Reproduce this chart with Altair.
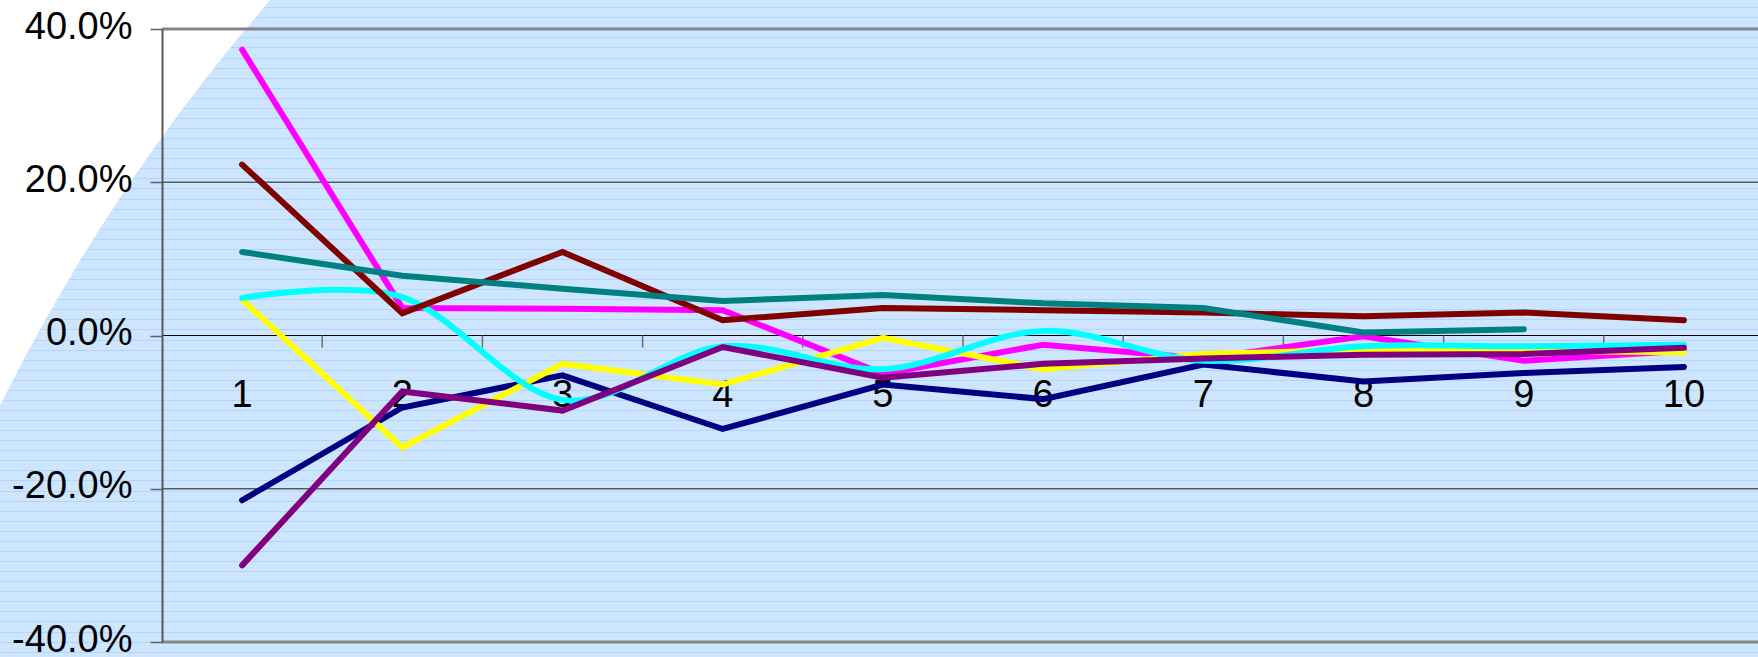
import math
import altair as alt
import pandas as pd

# ---- data -------------------------------------------------------------
categories = [1, 2, 3, 4, 5, 6, 7, 8, 9, 10]

# percentage change per period, one list per series (None = no value)
series_navy = [-21.5, -9.4, -5.2, -12.2, -6.4, -8.3, -3.8, -6.0, -4.9, -4.1]
series_magenta = [37.3, 3.6, 3.5, 3.3, -5.0, -1.2, -3.0, -0.1, -3.3, -2.0]
series_yellow = [4.7, -14.6, -3.7, -6.4, -0.3, -4.4, -2.4, -1.9, -2.0, -2.2]
series_cyan = [4.9, 5.0, -8.4, -1.4, -4.4, 0.6, -3.3, -1.4, -1.4, -1.2]
series_purple = [-30.0, -7.3, -9.8, -1.5, -5.5, -3.7, -3.0, -2.5, -2.4, -1.6]
series_darkred = [22.3, 2.9, 10.9, 2.0, 3.6, 3.3, 3.0, 2.5, 3.0, 2.0]
series_teal = [10.9, 7.8, 6.1, 4.5, 5.3, 4.2, 3.6, 0.4, 0.8, None]

y_ticks = [-40, -20, 0, 20, 40]

# drawing order: later series sit on top
series = [
    ("Series 1", series_navy, "#000080", "linear"),
    ("Series 2", series_magenta, "#FF00FF", "linear"),
    ("Series 3", series_yellow, "#FFFF00", "linear"),
    ("Series 4", series_cyan, "#00FFFF", "cardinal"),
    ("Series 5", series_purple, "#800080", "linear"),
    ("Series 6", series_darkred, "#800000", "linear"),
    ("Series 7", series_teal, "#008080", "linear"),
]

rows = []
for name, vals, _, _ in series:
    for c, v in zip(categories, vals):
        if v is not None:
            rows.append({"series": name, "cat": c, "value": v})
df = pd.DataFrame(rows)

# ---- layout -----------------------------------------------------------
W, H = 1596, 613
PAD = {"left": 162, "right": 0, "top": 29, "bottom": 15}
CANVAS_H = PAD["top"] + H + PAD["bottom"]

BG = "#CDE5FF"
STRIPE = "#B2D5FB"
FONT = "Liberation Sans"

x_scale = alt.Scale(domain=[0.5, 10.4625], nice=False, zero=False)
y_scale = alt.Scale(domain=[-40, 40], nice=False, zero=False)

y_axis = alt.Axis(
    values=y_ticks,
    labelExpr="(datum.value < 0 ? '-' : '') + format(abs(datum.value), '.1f') + '%'",
    labelFont=FONT,
    labelFontSize=38,
    labelColor="black",
    labelPadding=18,
    labelOffset=-2,
    tickSize=12,
    tickColor="#606060",
    tickWidth=1.5,
    domainColor="#595959",
    domainWidth=2,
    grid=False,
    title=None,
    zindex=1,
)


def y_enc(field):
    return alt.Y(field, type="quantitative", scale=y_scale, axis=y_axis)


# ---- background: striped fill with a white corner ---------------------
stripe_period = 10.07
stripe_start = 7.7
stops = [alt.GradientStop(offset=0, color=BG)]
k = 0
while stripe_start + k * stripe_period < CANVAS_H - 1:
    yc = stripe_start + k * stripe_period
    o1 = (yc - 0.5) / CANVAS_H
    o2 = (yc + 0.5) / CANVAS_H
    stops += [
        alt.GradientStop(offset=o1, color=BG),
        alt.GradientStop(offset=o1, color=STRIPE),
        alt.GradientStop(offset=o2, color=STRIPE),
        alt.GradientStop(offset=o2, color=BG),
    ]
    k += 1
stops.append(alt.GradientStop(offset=1, color=BG))

one = pd.DataFrame({"k": [0]})
background = alt.Chart(one).mark_rect(
    color=alt.LinearGradient(gradient="linear", stops=stops, x1=0, x2=0, y1=0, y2=1)
).encode(
    x=alt.value(-PAD["left"]),
    x2=alt.value(W),
    y=alt.value(-PAD["top"]),
    y2=alt.value(H + PAD["bottom"]),
)

corner = alt.Chart(one).mark_arc(
    theta=0, theta2=2 * math.pi, radius=3200, radius2=1938, fill="white"
).encode(
    x=alt.value(1735 - PAD["left"]),
    y=alt.value(1269 - PAD["top"]),
)

# ---- grid lines -------------------------------------------------------
mid_grid = alt.Chart(pd.DataFrame({"g": [-20, 20]})).mark_rule(
    color="#5A5A5A", strokeWidth=1.3
).encode(y=y_enc("g"), x=alt.value(0), x2=alt.value(W))

border_grid = alt.Chart(pd.DataFrame({"g": [-40, 40]})).mark_rule(
    color="#858585", strokeWidth=3
).encode(y=y_enc("g"), x=alt.value(0), x2=alt.value(W))

zero_line = alt.Chart(pd.DataFrame({"g": [0]})).mark_rule(
    color="black", strokeWidth=1.2
).encode(y=y_enc("g"), x=alt.value(0), x2=alt.value(W))

# ---- category axis drawn on the zero line -----------------------------
tick_df = pd.DataFrame({"b": [c + 0.5 for c in categories[:-1]], "z": 0})
x_ticks = alt.Chart(tick_df).mark_rule(
    color="#6E6E6E", strokeWidth=1.5, y2Offset=12
).encode(
    x=alt.X("b:Q", scale=x_scale, axis=None),
    y=y_enc("z"),
    y2="z",
)

label_df = pd.DataFrame({"cat": categories, "label": [str(c) for c in categories], "z": 0})
x_labels = alt.Chart(label_df).mark_text(
    font=FONT, fontSize=38, color="black", align="center", baseline="alphabetic", dy=71
).encode(
    x=alt.X("cat:Q", scale=x_scale, axis=None),
    y=y_enc("z"),
    text="label:N",
)

# ---- series lines -----------------------------------------------------
line_layers = []
for name, _, color, interp in series:
    line_layers.append(
        alt.Chart(df).transform_filter(alt.datum.series == name).mark_line(
            color=color,
            strokeWidth=6,
            strokeCap="round",
            strokeJoin="miter",
            interpolate=interp,
        ).encode(
            x=alt.X("cat:Q", scale=x_scale, axis=None),
            y=y_enc("value"),
        )
    )

chart = alt.layer(
    background, corner, mid_grid, border_grid, zero_line, x_ticks, x_labels, *line_layers
).properties(
    width=W,
    height=H,
    padding=PAD,
    autosize=alt.AutoSizeParams(type="none"),
    background=BG,
).configure_view(stroke=None)

chart.save("out.html", embed_options={"renderer": "svg", "actions": False})
